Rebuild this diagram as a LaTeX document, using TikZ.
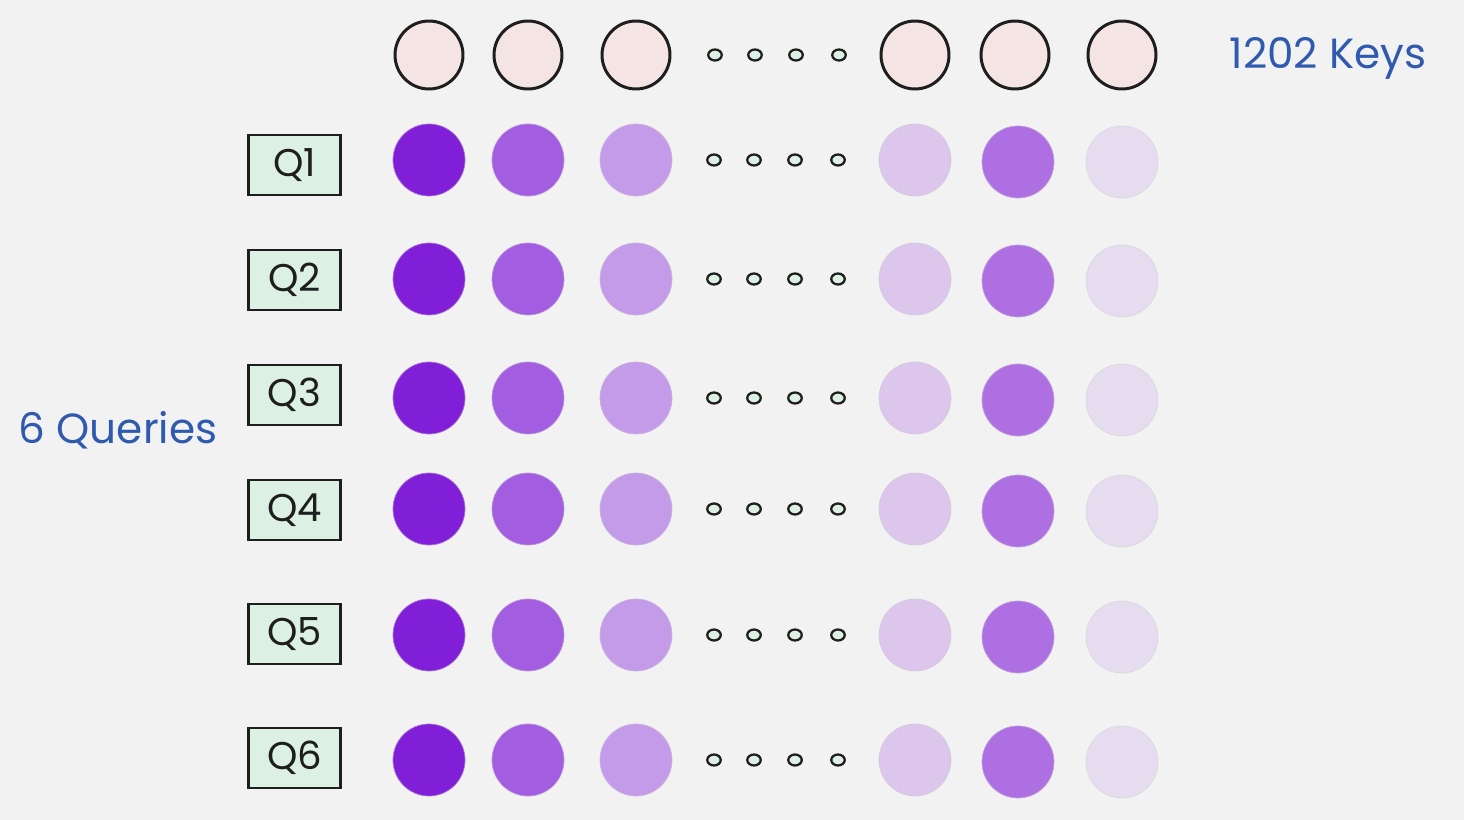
\documentclass[tikz,border=0pt]{standalone}
\usepackage{fontspec}
\usetikzlibrary{shapes.geometric}
\setmainfont{Poppins}
\definecolor{bgcol}{HTML}{F2F2F2}
\definecolor{inkcol}{HTML}{1E1E1E}
\definecolor{bluecol}{HTML}{2F5AAE}
\definecolor{keyfill}{HTML}{F5E4E4}
\definecolor{qfill}{HTML}{DCF1E4}
\definecolor{wA}{HTML}{801ED8}
\definecolor{wB}{HTML}{A35DE0}
\definecolor{wC}{HTML}{C49BE8}
\definecolor{wE}{HTML}{DCC6EC}
\definecolor{wF}{HTML}{AE6FE2}
\definecolor{wG}{HTML}{E5DDEF}

\begin{document}
\begin{tikzpicture}[x=0.02cm,y=-0.02cm]
    \tikzset{every node/.style={inner sep=0pt}}
    \tikzset{keycirc/.style={circle,draw=inkcol,line width=1.7pt,fill=keyfill,minimum size=1.36cm}}
    \tikzset{wcirc/.style={circle,draw=#1!85!black!60,line width=0.4pt,fill=#1,minimum size=1.44cm}}
    \tikzset{gapdot/.style={ellipse,draw=inkcol,line width=1.3pt,fill=qfill,minimum width=0.27cm,minimum height=0.22cm}}
    \tikzset{qbox/.style={rectangle,draw=inkcol,line width=1.6pt,fill=qfill,minimum width=1.84cm,minimum height=1.2cm,font=\fontsize{22}{26}\selectfont,text=inkcol}}
    \tikzset{bluetext/.style={text=bluecol,font=\fontsize{24}{28}\selectfont}}
    \fill [bgcol] (0,0) rectangle (1464,820);
    \useasboundingbox (0,0) rectangle (1464,820);
    % keys row
    \foreach \kx [count=\i] in {429,528,636,915,1015,1122}
        \node [keycirc] (k\i) at (\kx,55) {};
    \foreach \dx [count=\d] in {715,755,796,839}
        \node [gapdot] (kd\d) at (\dx,55) {};
    \node [bluetext] (keys) at (1328,58) {1202 Keys};
    % query rows
    \foreach \qy/\by [count=\j] in {160/165,279/280,398/395,509/510,635/634,760/758} {
        \node [qbox] (q\j) at (294.5,\by) {Q\j};
        \node [wcirc=wA] (q\j a) at (429,\qy) {};
        \node [wcirc=wB] (q\j b) at (528,\qy) {};
        \node [wcirc=wC] (q\j c) at (636,\qy) {};
        \node [wcirc=wE] (q\j e) at (915,\qy) {};
        \node [wcirc=wF] (q\j f) at (1018,\qy+2) {};
        \node [wcirc=wG] (q\j g) at (1122,\qy+2) {};
        \foreach \dx [count=\d] in {714,754,795,838}
            \node [gapdot] (q\j d\d) at (\dx,\qy) {};
    }
    \node [bluetext] (queries) at (118,430) {6 Queries};
\end{tikzpicture}
\end{document}
